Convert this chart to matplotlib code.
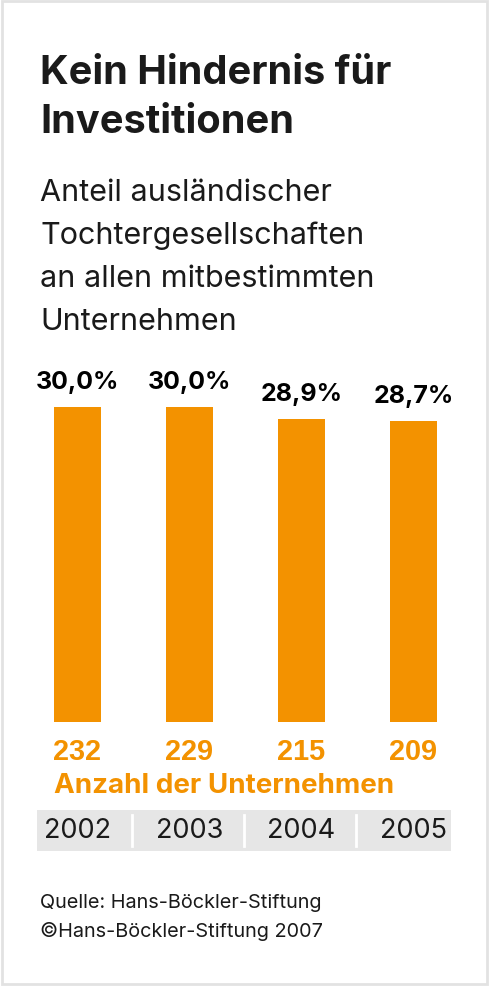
import matplotlib
matplotlib.use("Agg")
import matplotlib.pyplot as plt
from matplotlib.patches import Rectangle

plt.rcParams["font.family"] = ["Inter", "DejaVu Sans"]

# data
years = ["2002", "2003", "2004", "2005"]
shares = [30.0, 30.0, 28.9, 28.7]
share_labels = ["30,0%", "30,0%", "28,9%", "28,7%"]
counts = [232, 229, 215, 209]

ORANGE = "#f39200"
DARK = "#1a1a1a"
W, H = 491, 987


def fx(px):
    return px / W


def fy(py):
    return 1 - py / H


fig = plt.figure(figsize=(W / 100, H / 100), dpi=100)
fig.patch.set_facecolor("white")

# thin grey frame around the graphic
fig.patches.append(Rectangle((fx(2), fy(985)), fx(485), 983 / H, transform=fig.transFigure,
                             fill=False, edgecolor="#e2e2e2", linewidth=2))

# title and subtitle
fig.text(fx(40), fy(84), "Kein Hindernis für", fontsize=28.6, fontweight="bold", color=DARK,
         va="baseline")
fig.text(fx(40), fy(133), "Investitionen", fontsize=28.6, fontweight="bold", color=DARK,
         va="baseline")
sub = ["Anteil ausländischer", "Tochtergesellschaften", "an allen mitbestimmten", "Unternehmen"]
for i, line in enumerate(sub):
    fig.text(fx(40), fy(201 + 43 * i), line, fontsize=22, color=DARK, va="baseline")

# bars: x units of 112 px, y units of 10.5 px per percent, zero at y=723
ax = fig.add_axes([fx(21.5), fy(723), 448 / W, 346.5 / H])
ax.set_xlim(-0.5, 3.5)
ax.set_ylim(0, 33)
x = range(len(years))
ax.bar(x, shares, width=0.42, color=ORANGE)
for i, (v, lab, n) in enumerate(zip(shares, share_labels, counts)):
    ax.annotate(lab, (i, v), xytext=(0, 19), textcoords="offset pixels", ha="center",
                va="baseline", fontsize=18, fontweight="bold", color="black",
                annotation_clip=False)
    ax.annotate(str(n), (i, 0), xytext=(0, -37), textcoords="offset pixels", ha="center",
                va="baseline", fontsize=20.8, fontweight="bold", color=ORANGE,
                family="Liberation Sans", annotation_clip=False)
ax.axis("off")

fig.text(fx(54), fy(793), "Anzahl der Unternehmen", fontsize=20, fontweight="bold",
         color=ORANGE, va="baseline")

# year band
bx = fig.add_axes([fx(21.5), fy(852), 448 / W, 41 / H])
bx.set_xlim(-0.5, 3.5)
bx.set_ylim(0, 1)
bx.axvspan(-0.36, 3.335, color="#e6e6e6", lw=0)
for s in [0.49, 1.49, 2.49]:
    bx.axvline(s, ymin=0.12, ymax=0.88, color="white", lw=2)
for i, yr in enumerate(years):
    bx.text(i, 0.5, yr, ha="center", va="center", fontsize=19.5, color=DARK)
bx.axis("off")

# source
fig.text(fx(40), fy(908), "Quelle: Hans-Böckler-Stiftung", fontsize=14.3, color=DARK,
         va="baseline")
fig.text(fx(40), fy(937), "©Hans-Böckler-Stiftung 2007", fontsize=14.3, color=DARK,
         va="baseline")

fig.savefig("out.png", dpi=100, facecolor="white")
